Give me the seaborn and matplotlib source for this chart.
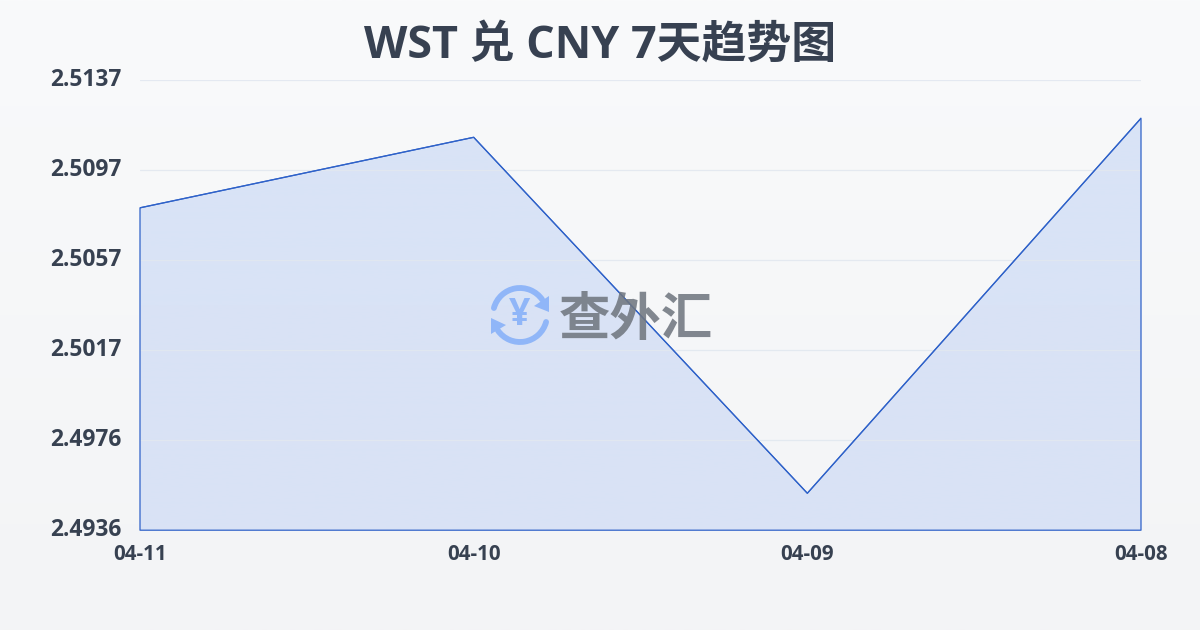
import numpy as np
import pandas as pd
import seaborn as sns
import matplotlib
matplotlib.use("Agg")
import matplotlib.pyplot as plt
from matplotlib.patches import Arc, Polygon

dates = ["04-11", "04-10", "04-09", "04-08"]
rates = [2.5080, 2.51115, 2.49525, 2.5120]
y_min = 2.4936
y_max = 2.5137
y_labels = ["2.4936", "2.4976", "2.5017", "2.5057", "2.5097", "2.5137"]
title = "WST 兑 CNY 7天趋势图"
brand = "查外汇"

sns.set_theme(style="white")
FONT = ["Open Sans", "Noto Sans CJK SC", "DejaVu Sans"]
plt.rcParams["font.family"] = FONT

fig = plt.figure(figsize=(12, 6.3), dpi=100)

# page background gradient
bg = fig.add_axes([0, 0, 1, 1], zorder=0)
bg.imshow(np.linspace(0, 1, 256).reshape(-1, 1),
          aspect="auto", extent=[0, 1, 0, 1],
          cmap=matplotlib.colors.LinearSegmentedColormap.from_list("p", ["#f9fafb", "#f3f4f6"]))
bg.axis("off")

ax = fig.add_axes([140 / 1200, 1 - 530.2 / 630, 1001 / 1200, 450 / 630], zorder=1)
ax.patch.set_alpha(0)
df = pd.DataFrame({"x": np.arange(len(dates)), "rate": rates})

# gradient area under the line
poly = ax.fill_between(df["x"], df["rate"], y_min, facecolor="none",
                       edgecolor="#2f62c9", linewidth=0.9, zorder=3, clip_on=False)
grad = np.zeros((256, 1, 4))
top = matplotlib.colors.to_rgb("#d9e4f7")
bot = matplotlib.colors.to_rgb("#d9e2f5")
for i in range(256):
    t = i / 255
    grad[i, 0, :3] = [top[c] * (1 - t) + bot[c] * t for c in range(3)]
    grad[i, 0, 3] = 1
img = ax.imshow(grad, aspect="auto", origin="upper",
                extent=[0, len(dates) - 1, y_min, y_max], zorder=2)
img.set_clip_path(poly.get_paths()[0], transform=ax.transData)

sns.lineplot(data=df, x="x", y="rate", ax=ax, color="#2f62c9", linewidth=0.9, zorder=4)

ax.set_xlim(0, len(dates) - 1)
ax.set_ylim(y_min, y_max)
ax.set_xlabel("")
ax.set_ylabel("")
ax.set_xticks(df["x"], dates)
ax.set_yticks(np.linspace(y_min, y_max, len(y_labels)), y_labels)
ax.grid(axis="y", color="#e2e8f0", linewidth=0.9, alpha=0.9, zorder=2.5)
ax.set_axisbelow(False)
for s in ax.spines.values():
    s.set_visible(False)
ax.tick_params(axis="x", length=6, width=0.8, color="#e8e8e0", pad=4,
               labelsize=14.8, labelcolor="#374151")
ax.tick_params(axis="y", length=0, pad=13, labelsize=16.4, labelcolor="#374151")
for lab in ax.get_xticklabels() + ax.get_yticklabels():
    lab.set_fontweight("bold")
for lab in ax.get_yticklabels():
    lab.set_verticalalignment("center")

fig.text(600 / 1200, 1 - 46.5 / 630, title, ha="center", va="center",
         fontsize=32.3, fontweight="bold", color="#374151", family=FONT)

# watermark overlay in pixel coordinates
ov = fig.add_axes([0, 0, 1, 1], zorder=2)
ov.set_xlim(0, 1200)
ov.set_ylim(630, 0)
ov.axis("off")
blue = "#90b6f8"
cx, cy, r = 520, 315, 27
# y axis is inverted, so angles run clockwise on screen
ov.add_patch(Arc((cx, cy), 2 * r, 2 * r, theta1=195, theta2=325, color=blue, lw=4.2, capstyle="round"))
ov.add_patch(Arc((cx, cy), 2 * r, 2 * r, theta1=15, theta2=145, color=blue, lw=4.2, capstyle="round"))
ov.add_patch(Polygon([[549, 296], [549, 312], [534, 306]], closed=True, color=blue, lw=0))
ov.add_patch(Polygon([[491, 334], [491, 318], [506, 325]], closed=True, color=blue, lw=0))
ov.text(cx, cy, "¥", ha="center", va="center", fontsize=27, fontweight="bold", color=blue,
        family=["Open Sans", "DejaVu Sans"])
ov.text(636, 320, brand, ha="center", va="center", fontsize=37, fontweight="bold",
        color="#70767f", alpha=0.87, family=["Noto Sans CJK SC", "DejaVu Sans"])

fig.savefig("out.png", dpi=100)
